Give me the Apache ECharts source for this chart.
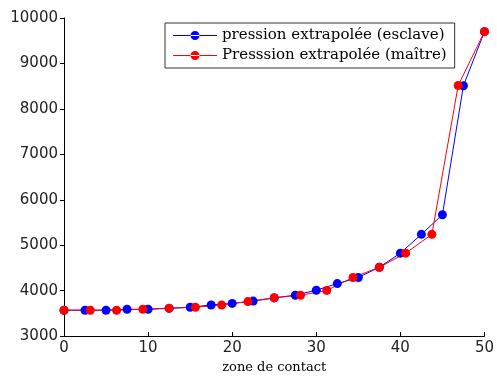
<!DOCTYPE html>
<html>
<head>
<meta charset="utf-8">
<script src="https://cdn.jsdelivr.net/npm/echarts@6/dist/echarts.min.js"></script>
<style>
  html, body { margin: 0; padding: 0; background: #fff; }
  #chart { width: 497px; height: 379px; }
</style>
</head>
<body>
<div id="chart"></div>
<script>
// esclave: pas de 2.5
const xEsclave = [0, 2.5, 5, 7.5, 10, 12.5, 15, 17.5, 20, 22.5, 25, 27.5, 30, 32.5, 35, 37.5, 40, 42.5, 45, 47.5, 50]
const yEsclave = [3570, 3570, 3570, 3590, 3590, 3610, 3635, 3685, 3720, 3770, 3840, 3900, 4010, 4155, 4290, 4515, 4825, 5240, 5670, 8510, 9700]
// maître: pas de 3.125
const xMaitre = [0, 3.125, 6.25, 9.375, 12.5, 15.625, 18.75, 21.875, 25, 28.125, 31.25, 34.375, 37.5, 40.625, 43.75, 46.875, 50]
const yMaitre = [3570, 3570, 3570, 3590, 3615, 3635, 3685, 3760, 3845, 3900, 4005, 4290, 4515, 4825, 5240, 8515, 9700]
const xTicks = [0, 10, 20, 30, 40, 50]
const yTicks = [3000, 4000, 5000, 6000, 7000, 8000, 9000, 10000]
const names = ['pression extrapolée (esclave)', 'Presssion extrapolée (maître)']
const colors = ['#0000ff', '#ff0000']

const toPairs = (xs, ys) => xs.map((x, i) => [x, ys[i]])

const chart = echarts.init(document.getElementById('chart'))

const tickFont = { fontFamily: 'DejaVu Sans', fontSize: 15, color: '#222' }

// icone de légende : trait fin + rond (matlab style)
const legendIcon = 'path://M0,4 L44,4 L44,5 L0,5 Z M17.5,4.5 A4.5,4.5 0 1,0 26.5,4.5 A4.5,4.5 0 1,0 17.5,4.5 Z'

const option = {
  animation: false,
  grid: { left: 64, right: 9, top: 18, bottom: 37 },
  legend: {
    orient: 'vertical',
    left: 165,
    top: 23,
    padding: [5, 8, 5, 8],
    itemGap: 5,
    itemWidth: 44,
    itemHeight: 9,
    icon: legendIcon,
    backgroundColor: '#fff',
    borderColor: '#333',
    borderWidth: 1,
    borderRadius: 0,
    textStyle: { fontFamily: 'DejaVu Serif', fontSize: 15, color: '#000' },
    data: names
  },
  xAxis: {
    type: 'value',
    min: xTicks[0],
    max: xTicks[xTicks.length - 1],
    interval: 10,
    name: 'zone de contact',
    nameLocation: 'middle',
    nameGap: 23,
    nameTextStyle: { fontFamily: 'DejaVu Serif', fontSize: 13, color: '#000' },
    axisLine: { lineStyle: { color: '#000' } },
    axisTick: { inside: true, length: 4, lineStyle: { color: '#000' } },
    axisLabel: Object.assign({ margin: 5, formatter: v => String(v) }, tickFont),
    splitLine: { show: false }
  },
  yAxis: {
    type: 'value',
    min: yTicks[0],
    max: yTicks[yTicks.length - 1],
    interval: 1000,
    axisLine: { show: true, lineStyle: { color: '#000' } },
    axisTick: { show: true, length: 4, lineStyle: { color: '#000' } },
    axisLabel: Object.assign({ margin: 6, formatter: v => String(v) }, tickFont),
    splitLine: { show: false }
  },
  series: [
    {
      name: names[0],
      type: 'line',
      data: toPairs(xEsclave, yEsclave),
      symbol: 'circle',
      symbolSize: 9,
      itemStyle: { color: colors[0] },
      lineStyle: { width: 1, color: colors[0] }
    },
    {
      name: names[1],
      type: 'line',
      data: toPairs(xMaitre, yMaitre),
      symbol: 'circle',
      symbolSize: 9,
      itemStyle: { color: colors[1] },
      lineStyle: { width: 1, color: colors[1] }
    }
  ]
}

chart.setOption(option)
</script>
</body>
</html>
